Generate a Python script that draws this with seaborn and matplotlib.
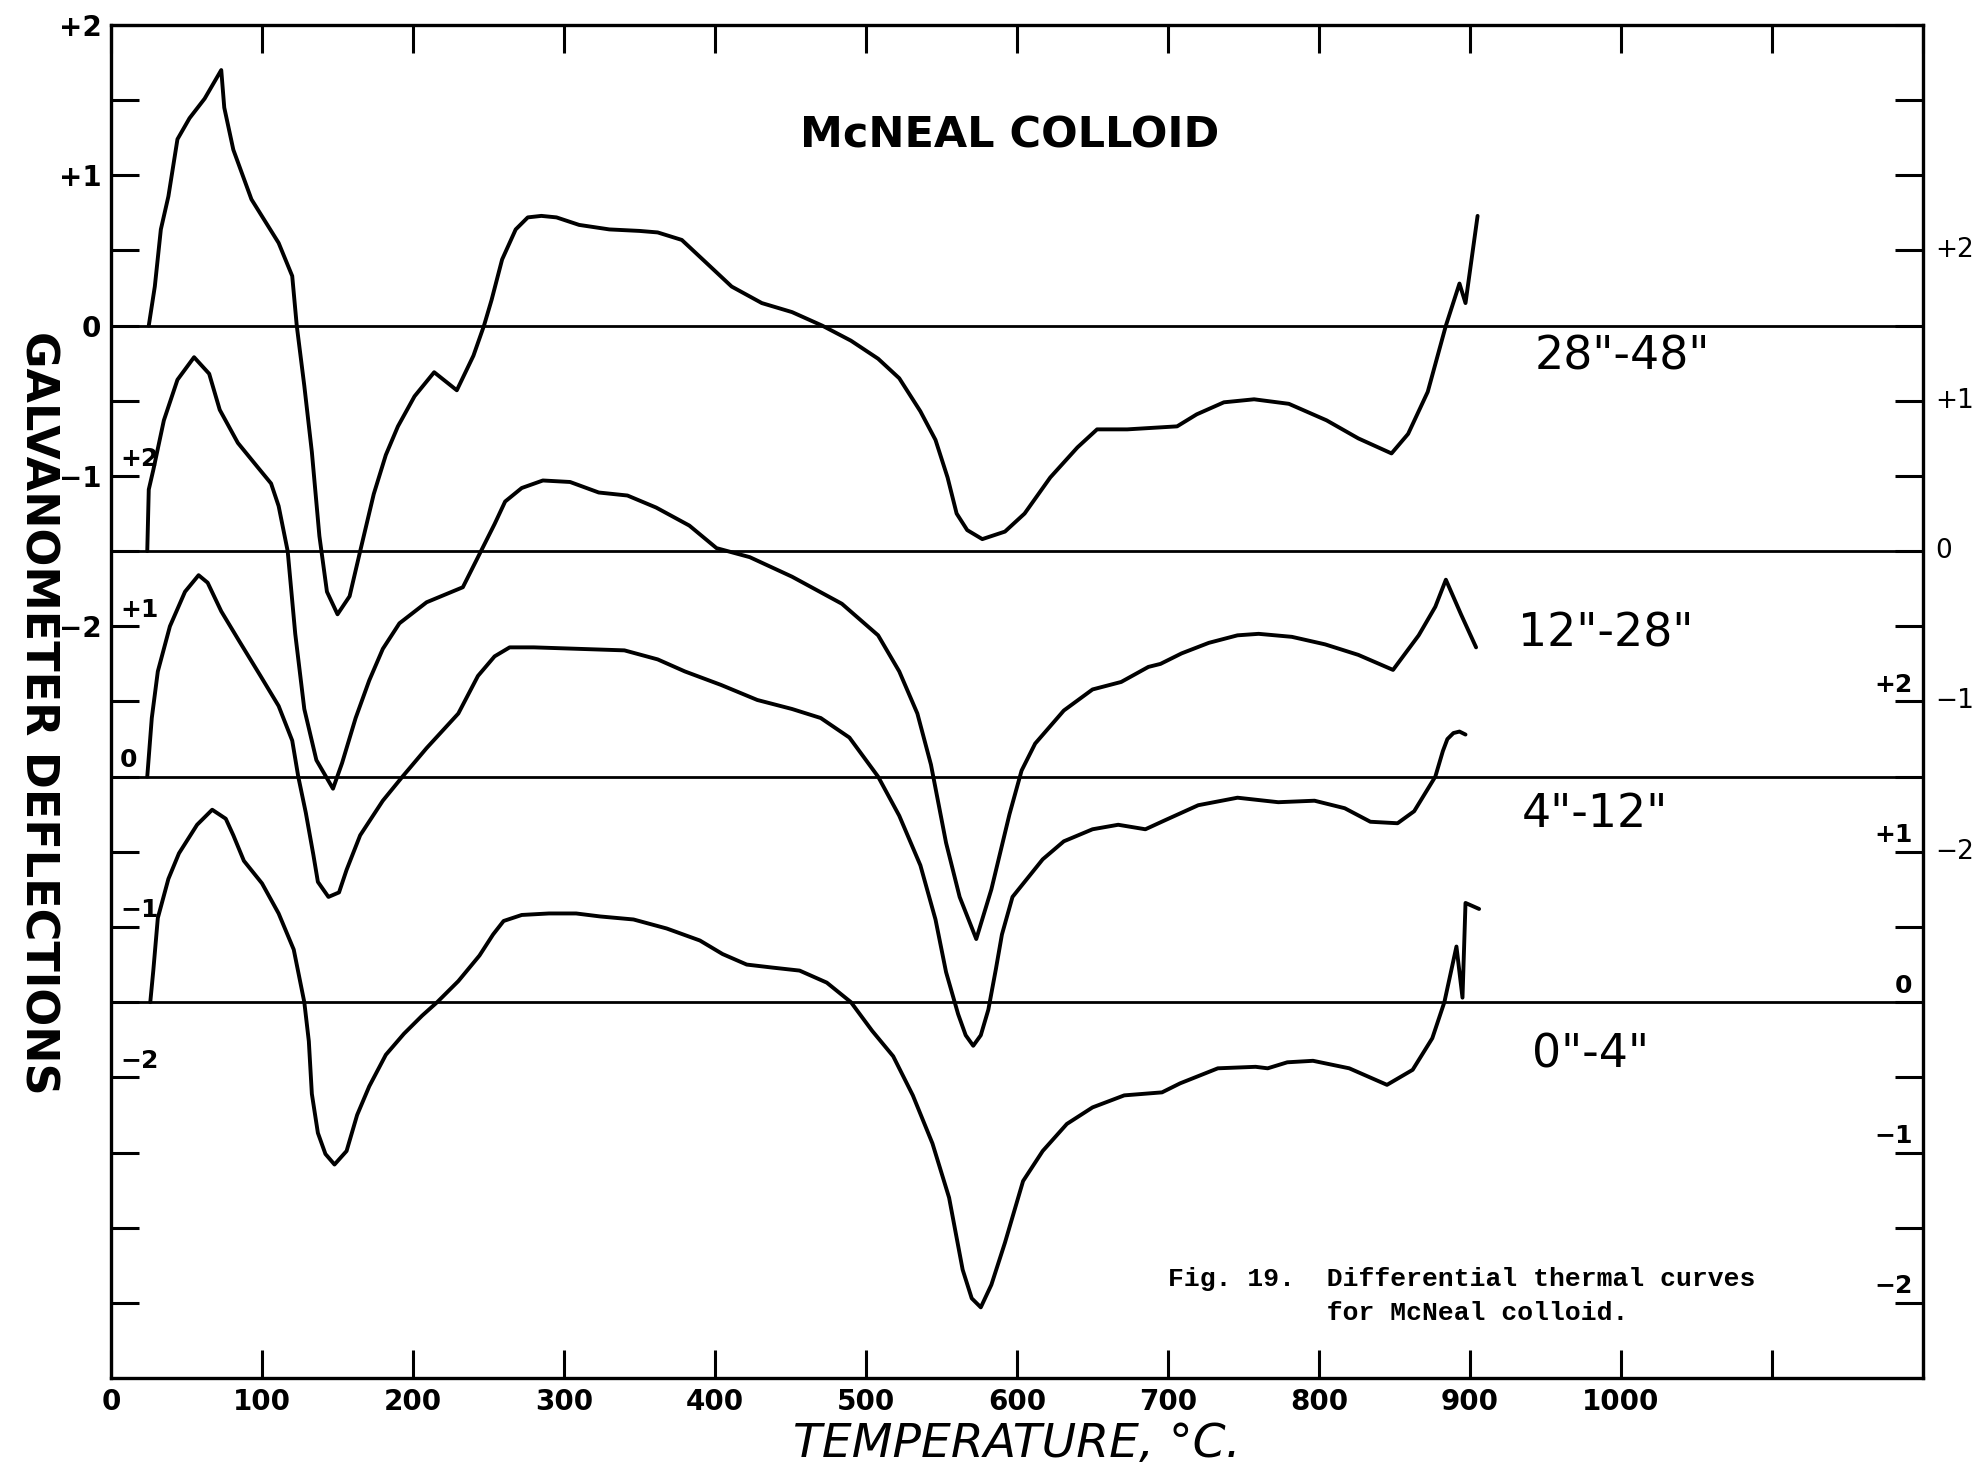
import numpy as np
import pandas as pd
import matplotlib
matplotlib.use("Agg")
import matplotlib.pyplot as plt
import seaborn as sns

sns.set_theme(style="white")
plt.rcParams["font.family"] = ["DejaVu Sans"]
plt.rcParams["text.color"] = "black"
plt.rcParams["xtick.color"] = "black"
plt.rcParams["ytick.color"] = "black"

# Differential thermal curves, McNeal colloid (deflection relative to each curve's own zero line)
temp_28_48 = [25, 29, 33, 38, 44, 52, 62, 73, 75, 81, 93, 111, 120, 123, 128, 133, 138, 143,
              150, 158, 165, 174, 182, 190, 201, 214, 229, 240, 247, 252, 259, 268, 276, 285,
              295, 310, 330, 350, 362, 378, 394, 411, 431, 451, 471, 490, 508, 522, 536, 546,
              554, 560, 567, 577, 592, 605, 622, 640, 653, 673, 706, 719, 737, 757, 780, 805,
              826, 848, 859, 872, 884, 893, 897, 905]
defl_28_48 = [0, 0.26, 0.64, 0.86, 1.24, 1.38, 1.51, 1.70, 1.45, 1.17, 0.84, 0.55, 0.33, 0,
              -0.40, -0.84, -1.40, -1.77, -1.92, -1.80, -1.50, -1.12, -0.86, -0.67, -0.47,
              -0.31, -0.43, -0.20, 0, 0.17, 0.44, 0.64, 0.72, 0.73, 0.72, 0.67, 0.64, 0.63,
              0.62, 0.57, 0.42, 0.26, 0.15, 0.09, 0, -0.10, -0.22, -0.35, -0.57, -0.76, -1.01,
              -1.25, -1.36, -1.42, -1.37, -1.25, -1.01, -0.81, -0.69, -0.69, -0.67, -0.59,
              -0.51, -0.49, -0.52, -0.63, -0.75, -0.85, -0.72, -0.44, 0, 0.28, 0.15, 0.73]

temp_12_28 = [24, 25, 28, 35, 44, 55, 65, 72, 84, 97, 106, 111, 117, 122, 128, 136, 147, 153,
              162, 171, 180, 191, 209, 233, 245, 254, 261, 272, 286, 304, 323, 342, 361, 383,
              401, 423, 451, 484, 508, 522, 534, 543, 553, 562, 573, 583, 595, 603, 612, 631,
              650, 669, 687, 695, 709, 727, 746, 760, 782, 804, 826, 849, 866, 877, 884, 894,
              904]
defl_12_28 = [0, 0.41, 0.54, 0.87, 1.14, 1.29, 1.18, 0.94, 0.72, 0.56, 0.45, 0.30, 0, -0.55,
              -1.05, -1.39, -1.58, -1.41, -1.11, -0.86, -0.65, -0.48, -0.34, -0.24, 0, 0.18,
              0.33, 0.42, 0.47, 0.46, 0.39, 0.37, 0.29, 0.17, 0.02, -0.04, -0.17, -0.35,
              -0.56, -0.80, -1.08, -1.42, -1.94, -2.30, -2.58, -2.25, -1.75, -1.46, -1.28,
              -1.06, -0.92, -0.87, -0.77, -0.75, -0.68, -0.61, -0.56, -0.55, -0.57, -0.62,
              -0.69, -0.79, -0.56, -0.37, -0.19, -0.42, -0.64]

temp_4_12 = [24, 27, 31, 39, 49, 58, 64, 73, 85, 99, 111, 120, 124, 129, 134, 137, 144, 151,
             156, 165, 180, 193, 209, 230, 243, 254, 264, 280, 310, 340, 362, 380, 404, 428,
             451, 470, 489, 508, 522, 536, 546, 553, 561, 566, 571, 576, 581, 586, 590, 597,
             605, 617, 631, 650, 667, 685, 698, 720, 746, 773, 797, 817, 834, 852, 863, 877,
             882, 885, 889, 893, 897]
defl_4_12 = [0, 0.39, 0.70, 1.00, 1.23, 1.34, 1.29, 1.10, 0.90, 0.67, 0.47, 0.24, 0, -0.24,
             -0.52, -0.70, -0.80, -0.77, -0.62, -0.39, -0.16, 0, 0.19, 0.42, 0.67, 0.80,
             0.86, 0.86, 0.85, 0.84, 0.78, 0.70, 0.61, 0.51, 0.45, 0.39, 0.26, 0, -0.26,
             -0.59, -0.95, -1.30, -1.58, -1.72, -1.79, -1.72, -1.55, -1.28, -1.05, -0.80,
             -0.70, -0.55, -0.43, -0.35, -0.32, -0.35, -0.29, -0.19, -0.14, -0.17, -0.16,
             -0.21, -0.30, -0.31, -0.23, 0, 0.17, 0.25, 0.29, 0.30, 0.28]

temp_0_4 = [26, 28, 31, 38, 45, 57, 67, 76, 81, 88, 100, 111, 121, 128, 131, 133, 137, 142,
            148, 156, 163, 171, 182, 194, 206, 216, 230, 244, 253, 260, 272, 290, 308, 324,
            346, 368, 390, 405, 421, 438, 456, 474, 490, 504, 518, 531, 544, 555, 564, 570,
            576, 583, 592, 604, 617, 633, 650, 671, 696, 708, 733, 758, 766, 779, 796, 820,
            845, 862, 875, 883, 891, 895, 897, 906]
defl_0_4 = [0, 0.21, 0.56, 0.82, 0.99, 1.18, 1.28, 1.22, 1.11, 0.94, 0.79, 0.59, 0.35, 0,
            -0.26, -0.61, -0.87, -1.01, -1.08, -0.99, -0.75, -0.56, -0.35, -0.21, -0.09, 0,
            0.14, 0.31, 0.45, 0.54, 0.58, 0.59, 0.59, 0.57, 0.55, 0.49, 0.41, 0.32, 0.25,
            0.23, 0.21, 0.13, 0, -0.19, -0.36, -0.62, -0.94, -1.30, -1.78, -1.97, -2.03,
            -1.88, -1.60, -1.19, -0.99, -0.81, -0.70, -0.62, -0.60, -0.54, -0.44, -0.43,
            -0.44, -0.40, -0.39, -0.44, -0.55, -0.45, -0.24, 0, 0.37, 0.03, 0.66, 0.62]

samples = ['28"-48"', '12"-28"', '4"-12"', '0"-4"']
baselines = [0.0, -1.5, -3.0, -4.5]
temps = [temp_28_48, temp_12_28, temp_4_12, temp_0_4]
defls = [defl_28_48, defl_12_28, defl_4_12, defl_0_4]

x_ticks = list(range(0, 1201, 100))
x_ticklabels = [str(t) if t <= 1000 else "" for t in x_ticks]
scale_labels = ["+2", "+1", "0", "\u22121", "\u22122"]

frames = []
for name, base, t, d in zip(samples, baselines, temps, defls):
    frames.append(pd.DataFrame({"temp": t, "defl": np.asarray(d) + base, "sample": name}))
df = pd.concat(frames, ignore_index=True)

fig = plt.figure(figsize=(19.86, 14.68), dpi=100)
ax = fig.add_axes([0.0559, 0.0613, 0.9124, 0.9217])

for base in baselines:
    ax.axhline(base, color="black", lw=2.0, zorder=1)

sns.lineplot(data=df, x="temp", y="defl", units="sample", estimator=None, sort=False,
             color="black", lw=2.8, ax=ax, legend=False, zorder=3,
             solid_joinstyle="round", solid_capstyle="round")

ax.set_xlim(0, 1200)
ax.set_ylim(-7, 2)
ax.set_xlabel("")
ax.set_ylabel("")
for sp in ax.spines.values():
    sp.set_visible(True)
    sp.set_color("black")
    sp.set_linewidth(2.4)

ax.set_xticks(x_ticks)
ax.set_xticklabels(x_ticklabels)
y_ticks = np.arange(-6.5, 2.01, 0.5)
ax.set_yticks(y_ticks)
ax.set_yticklabels([scale_labels[int(2 - v)] if (v == int(v) and -2 <= v <= 2) else ""
                    for v in y_ticks])
ax.tick_params(axis="both", direction="in", length=20, width=2.2, color="black")
ax.tick_params(axis="x", top=True, bottom=True, labelsize=20, pad=7)
ax.tick_params(axis="y", left=True, right=True, labelsize=20, pad=7)
for lbl in ax.get_xticklabels() + ax.get_yticklabels():
    lbl.set_fontweight("bold")

ytf = ax.get_yaxis_transform()
# scale of the 4"-12" curve, inside on the left
for i, v in enumerate([-1.0, -2.0, -3.0, -4.0, -5.0]):
    ax.text(6, v + 0.03, scale_labels[i], ha="left", va="bottom", fontsize=18,
            fontweight="bold")
# scale of the 12"-28" curve, outside on the right
for i, v in enumerate([0.5, -0.5, -1.5, -2.5, -3.5]):
    ax.text(1.0066, v, scale_labels[i], transform=ytf, ha="left", va="center",
            fontsize=19, clip_on=False)
# scale of the 0"-4" curve, inside on the right
for i, v in enumerate([-2.5, -3.5, -4.5, -5.5, -6.5]):
    ax.text(1193, v + 0.03, scale_labels[i], ha="right", va="bottom", fontsize=18,
            fontweight="bold")

ax.text(595, 1.265, "McNEAL COLLOID", ha="center", va="center", fontsize=31,
        fontweight="bold")
label_pos = [(943, -0.21), (932, -2.05), (934, -3.25), (941, -4.85)]
for name, (lx, ly) in zip(samples, label_pos):
    ax.text(lx, ly, name, ha="left", va="center", fontsize=33)

ax.text(700, -6.34, "Fig. 19.  Differential thermal curves", ha="left", va="center",
        fontsize=19, family="Liberation Mono", fontweight="bold")
ax.text(700, -6.57, "          for McNeal colloid.", ha="left", va="center",
        fontsize=19, family="Liberation Mono", fontweight="bold")

ax.text(0.5, -0.049, "TEMPERATURE, \u00b0C.", transform=ax.transAxes, ha="center",
        va="center", fontsize=34, fontstyle="italic", clip_on=False)
ax.text(-0.0403, 0.4915, "GALVANOMETER DEFLECTIONS", transform=ax.transAxes,
        ha="center", va="center", rotation=-90, fontsize=32, fontweight="bold",
        clip_on=False)

fig.savefig("out.png", dpi=100, facecolor="white")
